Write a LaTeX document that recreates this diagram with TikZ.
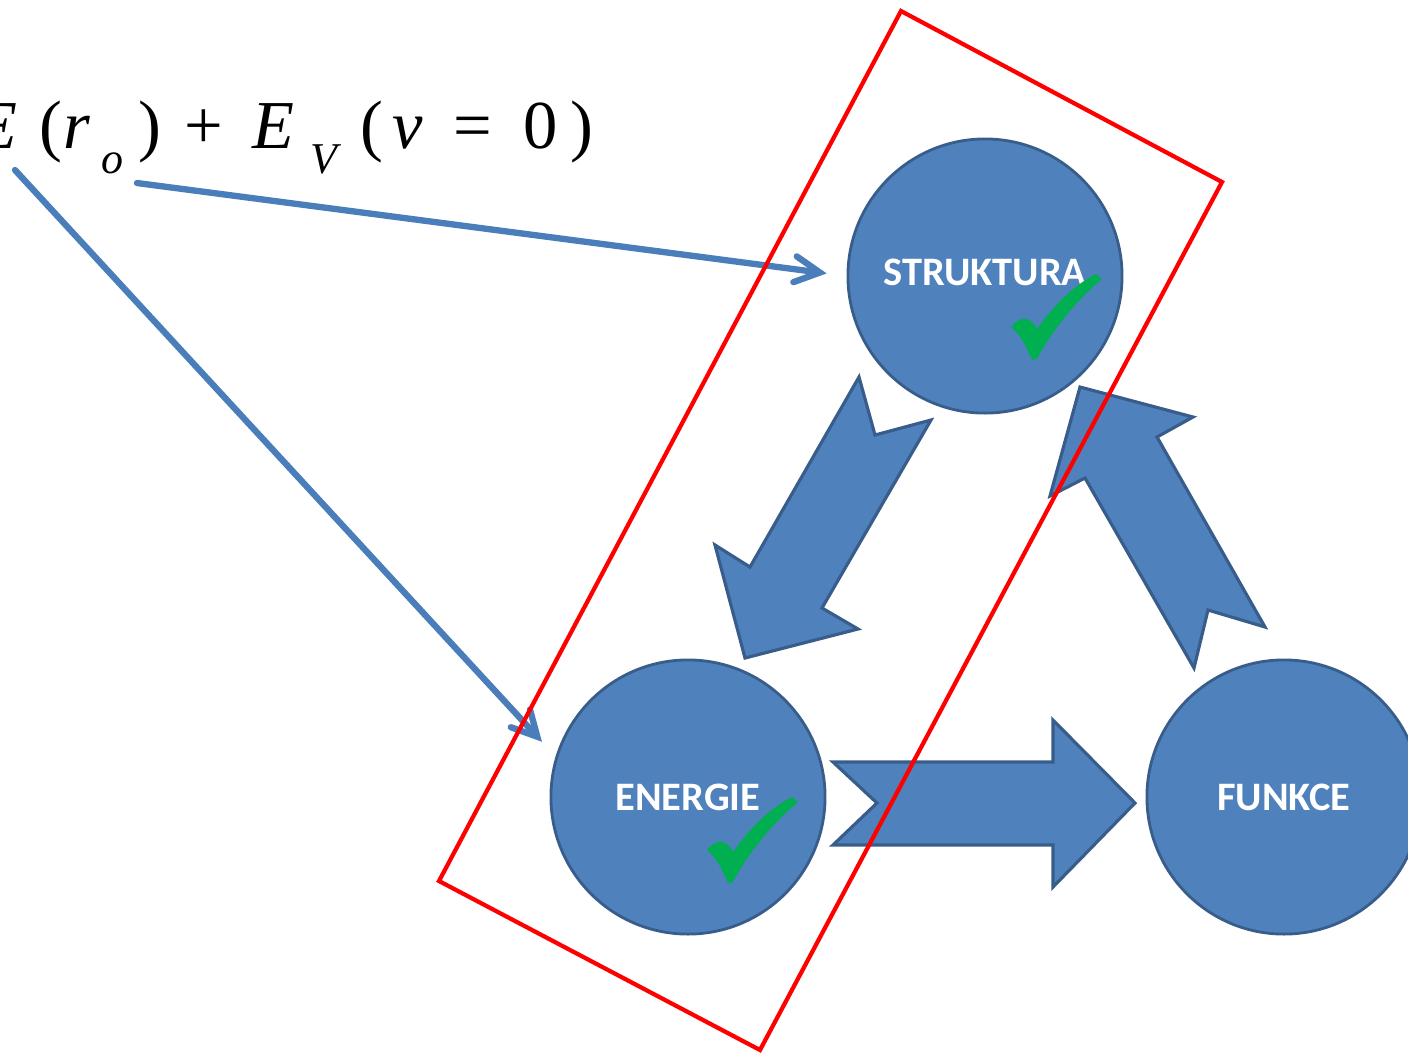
\documentclass[tikz,border=0pt]{standalone}
\usepackage{fontspec}
\setmainfont{Liberation Serif}
\newfontfamily\carlito{Carlito}
\usetikzlibrary{arrows.meta}

\definecolor{fillblue}{HTML}{4F81BD}
\definecolor{bordblue}{HTML}{385D8A}
\definecolor{linkblue}{HTML}{4A7EBB}
\definecolor{okgreen}{HTML}{00B050}

\newlength\pxu
\setlength\pxu{0.01cm}
\newcommand{\gp}[1]{\hspace{#1\pxu}}
\newcommand{\sub}[1]{\raisebox{-25\pxu}{\fontsize{12.5}{14}\selectfont\itshape #1}}

\tikzset{
  circ/.style={circle, draw=bordblue, fill=fillblue, line width=0.8pt,
    minimum size=2.74cm, inner sep=0pt, text=white,
    font=\carlito\bfseries\fontsize{11.5}{13}\selectfont},
  blockarrow/.style={fill=fillblue, draw=bordblue, line width=0.9pt, line join=miter},
  link/.style={linkblue, line width=1.8pt, line cap=round,
    -{Straight Barb[length=2.5mm, width=2.6mm, line cap=round]}, shorten >=0.2cm},
  checkmark/.pic={
    \fill[okgreen] (0,0) .. controls (-6,-14) and (-12,-26) .. (-21,-33)
      .. controls (-15,-40) and (-10,-42) .. (-6,-41)
      .. controls (0,-40) and (3,-35) .. (5,-31)
      .. controls (22,-55) and (42,-75) .. (64,-86) -- (70,-81)
      .. controls (45,-60) and (20,-30) .. (5,-1) -- cycle;
  }
}

\begin{document}
\begin{tikzpicture}[x=0.01cm, y=-0.01cm]
  \useasboundingbox (0,0) rectangle (1408,1053);

  % Draw the formula
  \node[anchor=base west, inner sep=0pt, font=\fontsize{19.5}{22}\selectfont] (formula) at (-25,148)
    {\textit{E}\gp{21.5}(\gp{1.4}\textit{r}\gp{11.5}\sub{o}\gp{15})\gp{23.4}+\gp{28.6}\textit{E}\gp{16.5}\sub{V}\gp{23}(\gp{9.4}\textit{v}\gp{30.8}=\gp{30.6}0\gp{13})};

  % Draw the three circles
  \node[circ] (struktura) at (985,276) {};
  \node[circ] (energie) at (688,797) {ENERGIE};
  \node[circ] (funkce) at (1284,797) {FUNKCE};
  \node[text=white, font=\carlito\bfseries\fontsize{11.5}{13}\selectfont] (strukturatext) at (985,272) {STRUKTURA};

  % Draw the block arrows
  \draw[blockarrow] (859,377) -- (875,435) -- (931,420) -- (822,608) -- (858,629)
    -- (745,658) -- (715,545) -- (750,567) -- cycle;
  \draw[blockarrow] (1080,387) -- (1193,417) -- (1157,437) -- (1265,627) -- (1208,610)
    -- (1194,668) -- (1085,478) -- (1050,496) -- cycle;
  \draw[blockarrow] (833,762) -- (1053,762) -- (1053,720) -- (1135,803) -- (1053,887)
    -- (1053,845) -- (833,845) -- (877,803) -- cycle;

  % Draw the check marks
  \pic at (1032,360) {checkmark};
  \pic at (728,883) {checkmark};

  % Draw the links from the formula
  \coordinate (ro) at (137,183);
  \coordinate (e) at (15,170);
  \draw[link] (ro) -- (struktura.west);
  \draw[link] (e) -- (energie.163);

  % Draw the red frame
  \draw[red, line width=1.2pt, line join=miter] (901,11) -- (1222,182) -- (760,1050) -- (439,881) -- cycle;
\end{tikzpicture}
\end{document}
